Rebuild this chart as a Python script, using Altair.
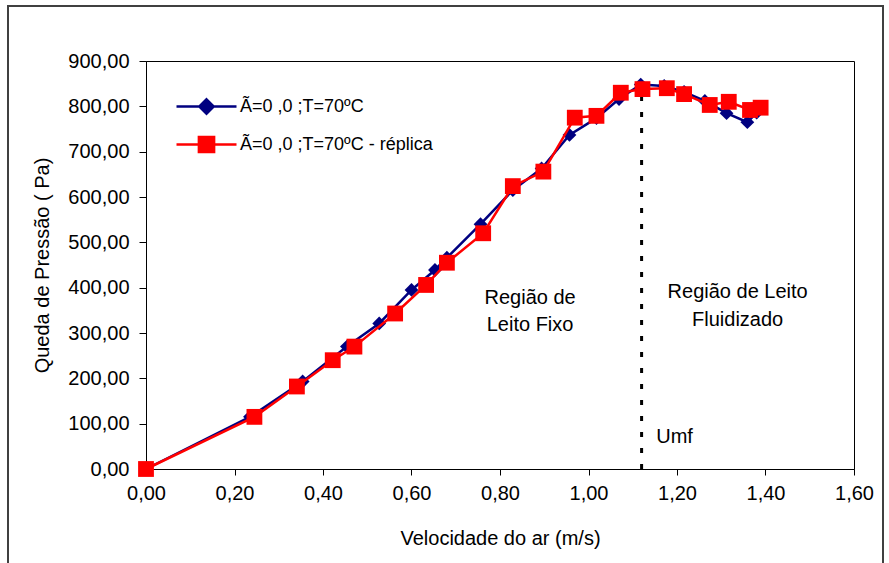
import altair as alt
import pandas as pd

# ---- data ----
vel_a = [0.00, 0.235, 0.354, 0.454, 0.527, 0.600, 0.653, 0.680, 0.756, 0.829, 0.894,
         0.957, 1.018, 1.069, 1.118, 1.171, 1.216, 1.263, 1.312, 1.359, 1.380]
dp_a = [0, 115, 193, 270, 321, 395, 439, 466, 540, 615, 663,
        737, 774, 816, 848, 845, 832, 812, 785, 765, 786]

vel_b = [0.00, 0.245, 0.341, 0.422, 0.471, 0.563, 0.633, 0.680, 0.762, 0.829, 0.898,
         0.969, 1.018, 1.073, 1.122, 1.177, 1.216, 1.274, 1.317, 1.365, 1.389]
dp_b = [0, 115, 182, 240, 270, 343, 406, 455, 520, 624, 656,
        775, 779, 830, 838, 840, 827, 803, 810, 792, 797]

series_names = ["Ã=0 ,0 ;T=70ºC", "Ã=0 ,0 ;T=70ºC - réplica"]
series_colors = ["#000080", "#FF0000"]

x_ticks = [0.0, 0.2, 0.4, 0.6, 0.8, 1.0, 1.2, 1.4, 1.6]
y_ticks = [0, 100, 200, 300, 400, 500, 600, 700, 800, 900]

umf_x = [1.12]
umf_top = [850]

ann_text = ["Região de", "Leito Fixo", "Região de Leito", "Fluidizado"]
ann_x = [0.868, 0.868, 1.337, 1.337]
ann_y = [377, 318, 391, 329]

umf_label = ["Umf"]
umf_label_x = [1.153]
umf_label_y = [70]

df = pd.concat([
    pd.DataFrame({"v": vel_a, "p": dp_a, "serie": series_names[0]}),
    pd.DataFrame({"v": vel_b, "p": dp_b, "serie": series_names[1]}),
], ignore_index=True)

FONT = "Liberation Sans"
comma_fmt = "replace(format(datum.value, '.2f'), '.', ',')"

xs = alt.Scale(domain=[0, 1.6], nice=False, zero=False)
ys = alt.Scale(domain=[0, 900], nice=False)

x_enc = alt.X("v:Q", scale=xs, axis=alt.Axis(
    title="Velocidade do ar (m/s)", values=x_ticks, labelExpr=comma_fmt,
    grid=False, tickSize=6, labelPadding=8, titleY=69, titleBaseline="middle",
    labelFlush=False, labelOverlap=False))
y_enc = alt.Y("p:Q", scale=ys, axis=alt.Axis(
    title="Queda de Pressão ( Pa)", values=y_ticks, labelExpr=comma_fmt,
    grid=False, tickSize=7, labelPadding=10, titleAngle=270, titleX=-104,
    titleY=204, titleBaseline="middle", titleAlign="center",
    labelFlush=False, labelOverlap=False))

base = alt.Chart(df)

def series_layers(name, color, shape, size):
    d = base.transform_filter(alt.datum.serie == name)
    line = d.mark_line(color=color, strokeWidth=2.5).encode(x=x_enc, y=y_enc)
    pts = d.mark_point(filled=True, color=color, shape=shape, size=size,
                       opacity=1, strokeWidth=0).encode(x=x_enc, y=y_enc)
    return [line, pts]

layers = []
layers += series_layers(series_names[0], series_colors[0], "diamond", 190)
layers += series_layers(series_names[1], series_colors[1], "square", 250)

# legend (symbols drawn as line + marker)
leg_shapes = ["M-3.75,0H3.75M0,-0.9L0.9,0L0,0.9L-0.9,0Z",
              "M-3.75,0H3.75M-0.95,-0.95H0.95V0.95H-0.95Z"]

def leg():
    return alt.Legend(title=None, orient="none", legendX=51, legendY=36,
                      symbolSize=256, labelOffset=24, padding=0,
                      rowPadding=12, labelFont=FONT, labelFontSize=18,
                      labelColor="black", symbolStrokeWidth=2.5, labelLimit=400)

legend_layer = base.transform_filter("false").mark_point(
    filled=True, size=256, opacity=1, strokeWidth=2.5).encode(
    x=x_enc, y=y_enc,
    fill=alt.Fill("serie:N", scale=alt.Scale(domain=series_names, range=series_colors), legend=leg()),
    stroke=alt.Stroke("serie:N", scale=alt.Scale(domain=series_names, range=series_colors), legend=leg()),
    shape=alt.Shape("serie:N", scale=alt.Scale(domain=series_names, range=leg_shapes), legend=leg()),
)

umf_df = pd.DataFrame({"v": umf_x, "p0": [0], "p1": umf_top})
rule = alt.Chart(umf_df).mark_rule(color="black", strokeWidth=3, strokeDash=[5, 11]).encode(
    x=alt.X("v:Q", scale=xs), y=alt.Y("p0:Q", scale=ys), y2="p1:Q")

ann_df = pd.DataFrame({"t": ann_text, "v": ann_x, "p": ann_y})
ann = alt.Chart(ann_df).mark_text(font=FONT, fontSize=20, color="black",
                                  align="center", baseline="middle").encode(
    x=alt.X("v:Q", scale=xs), y=alt.Y("p:Q", scale=ys), text="t:N")

umf_df2 = pd.DataFrame({"t": umf_label, "v": umf_label_x, "p": umf_label_y})
umf_txt = alt.Chart(umf_df2).mark_text(font=FONT, fontSize=20, color="black",
                                      align="left", baseline="middle").encode(
    x=alt.X("v:Q", scale=xs), y=alt.Y("p:Q", scale=ys), text="t:N")

# outer frame of the whole figure
frame = alt.Chart(pd.DataFrame({"a": [0]})).mark_rect(
    fill=None, stroke="#404040", strokeWidth=2, clip=False).encode(
    x=alt.value(-138), x2=alt.value(737), y=alt.value(-55), y2=alt.value(530))

chart = alt.layer(frame, rule, *layers, legend_layer, ann, umf_txt).properties(
    width=708, height=408,
    padding={"left": 146, "top": 61, "right": 35, "bottom": 94},
    autosize=alt.AutoSizeParams(type="none"),
    background="white",
).configure_view(stroke="black", strokeWidth=1).configure_axis(
    labelFont=FONT, titleFont=FONT, labelFontSize=20, titleFontSize=20,
    labelColor="black", titleColor="black", titleFontWeight="normal",
    domainColor="black", tickColor="black", domainWidth=1, tickWidth=1,
)

chart.save("out.html", embed_options={"renderer": "svg", "actions": False})
